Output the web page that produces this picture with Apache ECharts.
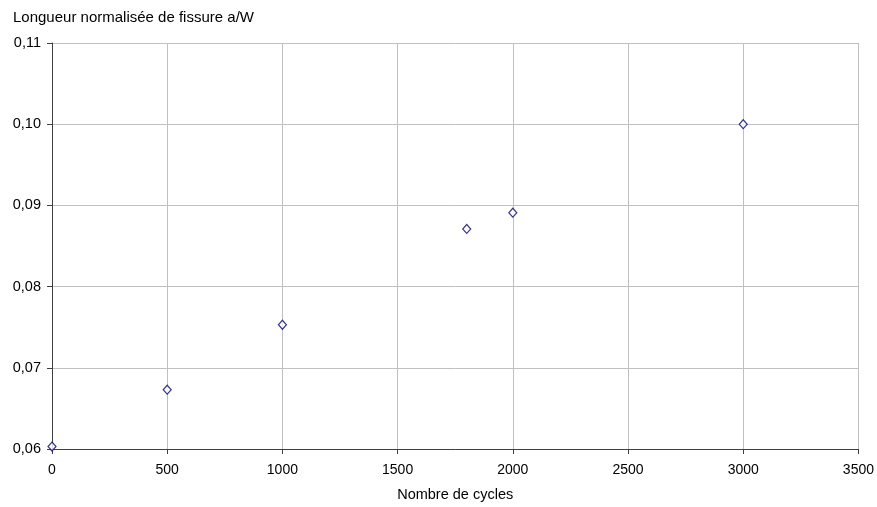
<!DOCTYPE html>
<html><head><meta charset="utf-8">
<script src="https://cdn.jsdelivr.net/npm/echarts@6/dist/echarts.min.js"></script>
<style>html,body{margin:0;padding:0;background:#fff}#c{width:877px;height:507px}</style>
</head><body><div id="c"></div>
<script>
var cycles = [0, 500, 1000, 1800, 2000, 3000];
var aW = [0.0603, 0.0673, 0.0753, 0.0871, 0.0891, 0.1000];
var yTitle = 'Longueur normalisée de fissure a/W';
var xTitle = 'Nombre de cycles';

var chart = echarts.init(document.getElementById('c'), null, {renderer:'canvas'});
var font = 'Arial, "Liberation Sans", sans-serif';
chart.setOption({
  animation:false,
  backgroundColor:'#fff',
  title:{text:yTitle, left:8, top:5, textStyle:{fontSize:15, fontWeight:'normal', color:'#000', fontFamily:font}},
  grid:{left:52, top:43, right:18, bottom:57, containLabel:false},
  xAxis:{type:'value', min:0, max:3500, interval:500,
    name:xTitle, nameLocation:'middle', nameGap:38,
    nameTextStyle:{fontSize:14.5, color:'#000', fontFamily:font},
    axisLine:{lineStyle:{color:'#404040', width:1}},
    axisTick:{show:true, length:5, lineStyle:{color:'#404040'}},
    axisLabel:{fontSize:14, color:'#000', fontFamily:font, margin:14,
      formatter:function(v){return String(v);}},
    splitLine:{show:true, lineStyle:{color:'#c0c0c0', width:1}}
  },
  yAxis:{type:'value', min:0.06, max:0.11, interval:0.01,
    axisLine:{show:true, lineStyle:{color:'#404040', width:1}},
    axisTick:{show:true, length:5, lineStyle:{color:'#404040'}},
    axisLabel:{fontSize:14.5, color:'#000', fontFamily:font, margin:11,
      formatter:function(v){return v.toFixed(2).replace('.', ',');}},
    splitLine:{show:true, lineStyle:{color:'#c0c0c0', width:1}}
  },
  series:[{type:'scatter', data:cycles.map(function(c,i){return [c, aW[i]];}),
    symbol:'diamond', symbolSize:[8,9],
    itemStyle:{color:'#fff', borderColor:'#000080', borderWidth:1.2}}]
});
</script></body></html>
